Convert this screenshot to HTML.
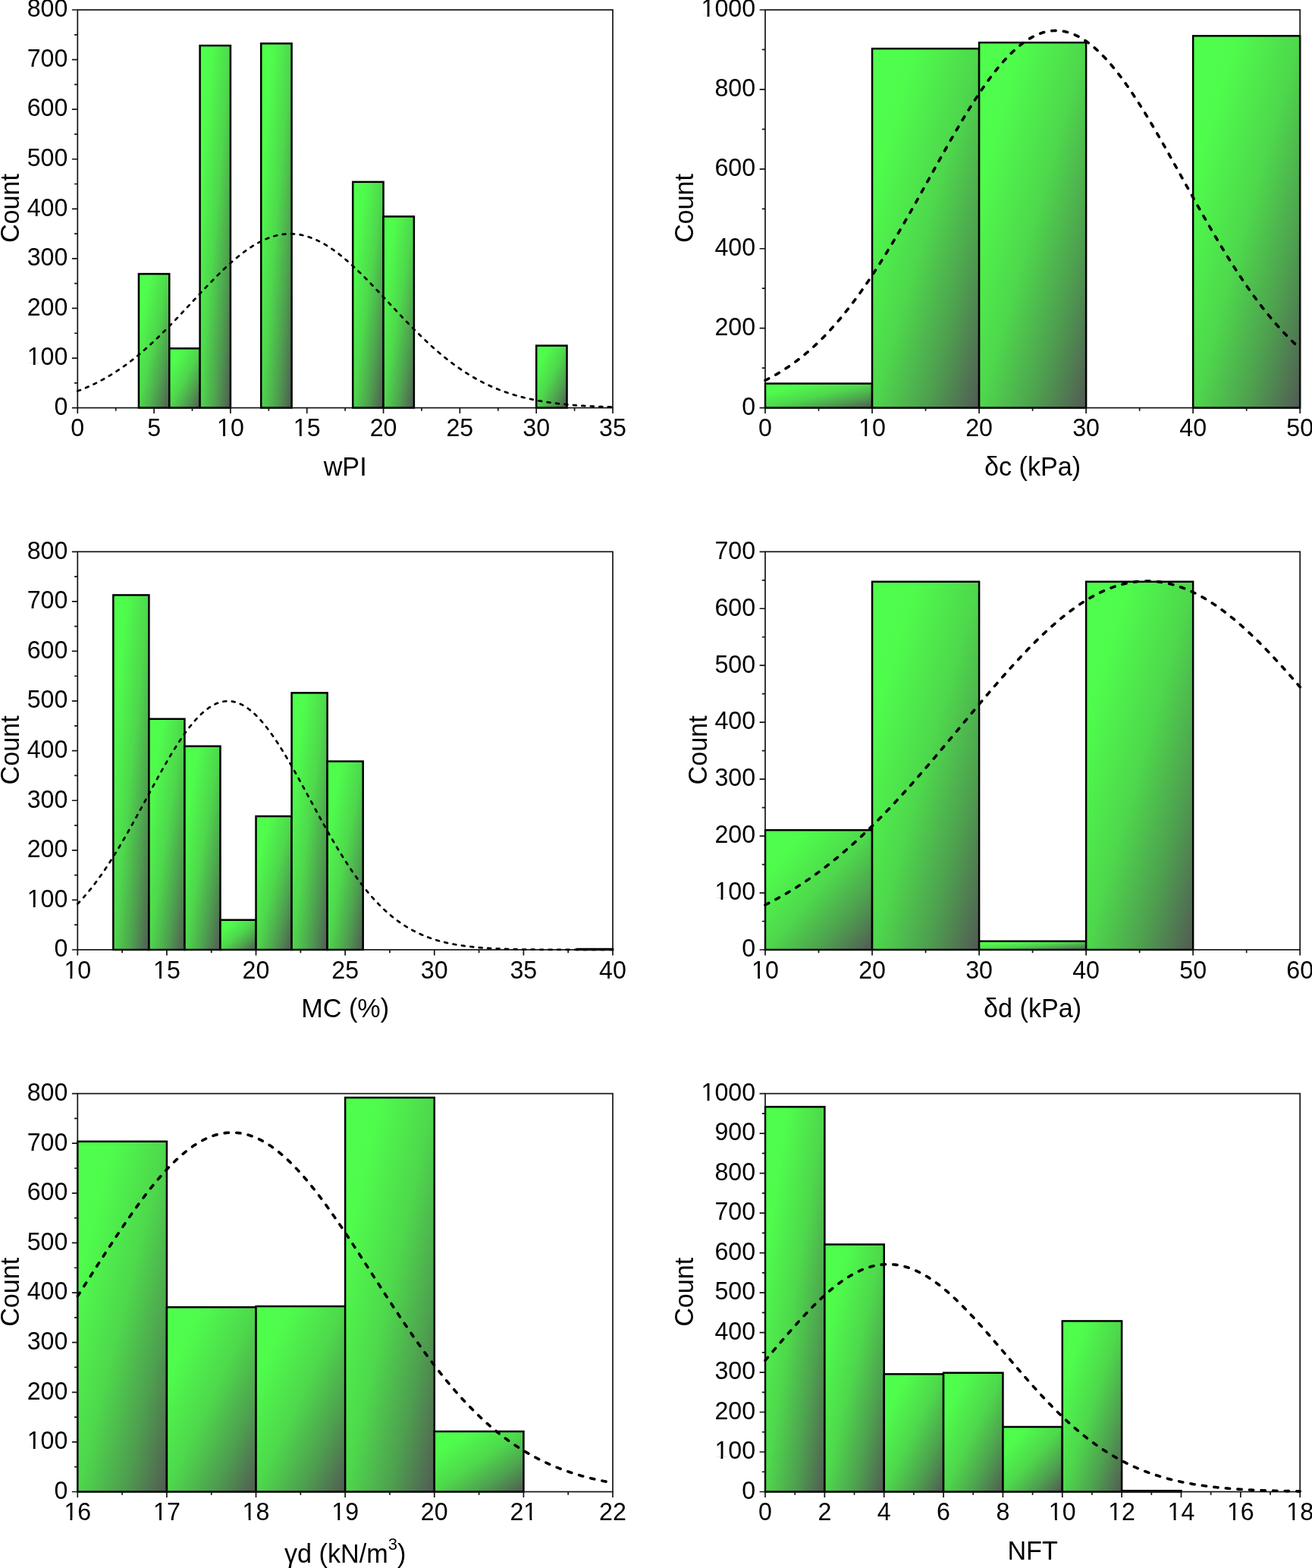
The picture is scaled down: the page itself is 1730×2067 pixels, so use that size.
<!DOCTYPE html>
<html><head><meta charset="utf-8"><title>Histograms</title>
<style>html,body{margin:0;padding:0;background:#fff;}body{width:1730px;height:2067px;overflow:hidden;}svg{display:block;}</style>
</head><body>
<svg width="1730" height="2067" viewBox="0 0 1730 2067" font-family="Liberation Sans, Arial, sans-serif" fill="#000"><defs>
<linearGradient id="gf" gradientUnits="objectBoundingBox" x1="0" y1="0" x2="1" y2="1">
<stop offset="0" stop-color="#4fff4c"/>
<stop offset="0.2" stop-color="#4ffc4c"/>
<stop offset="0.5" stop-color="#4ed84c"/>
<stop offset="0.75" stop-color="#4ea04f"/>
<stop offset="1" stop-color="#525a54"/>
</linearGradient>
</defs>
<g><rect x="182.95" y="361.07" width="40.33" height="176.53" fill="url(#gf)" stroke="#000" stroke-width="2.5"/><rect x="223.28" y="459.3" width="40.33" height="78.3" fill="url(#gf)" stroke="#000" stroke-width="2.5"/><rect x="263.6" y="60.08" width="40.33" height="477.52" fill="url(#gf)" stroke="#000" stroke-width="2.5"/><rect x="344.25" y="57.33" width="40.33" height="480.27" fill="url(#gf)" stroke="#000" stroke-width="2.5"/><rect x="465.23" y="239.82" width="40.33" height="297.78" fill="url(#gf)" stroke="#000" stroke-width="2.5"/><rect x="505.56" y="285.4" width="40.33" height="252.2" fill="url(#gf)" stroke="#000" stroke-width="2.5"/><rect x="707.19" y="455.63" width="40.33" height="81.97" fill="url(#gf)" stroke="#000" stroke-width="2.5"/><rect x="102.3" y="13" width="705.7" height="524.6" fill="none" stroke="#141414" stroke-width="1.7"/><path d="M94.9 537.6H102.3 M98.1 504.81H102.3 M94.9 472.03H102.3 M98.1 439.24H102.3 M94.9 406.45H102.3 M98.1 373.66H102.3 M94.9 340.88H102.3 M98.1 308.09H102.3 M94.9 275.3H102.3 M98.1 242.51H102.3 M94.9 209.73H102.3 M98.1 176.94H102.3 M94.9 144.15H102.3 M98.1 111.36H102.3 M94.9 78.57H102.3 M98.1 45.79H102.3 M94.9 13H102.3 M102.3 537.6V545 M152.71 537.6V541.8 M203.11 537.6V545 M253.52 537.6V541.8 M303.93 537.6V545 M354.34 537.6V541.8 M404.74 537.6V545 M455.15 537.6V541.8 M505.56 537.6V545 M555.96 537.6V541.8 M606.37 537.6V545 M656.78 537.6V541.8 M707.19 537.6V545 M757.59 537.6V541.8 M808 537.6V545" stroke="#141414" stroke-width="1.7" fill="none"/><polyline points="102.3,515.52 104.06,514.86 105.83,514.18 107.59,513.49 109.36,512.79 111.12,512.07 112.89,511.33 114.65,510.58 116.41,509.81 118.18,509.02 119.94,508.22 121.71,507.4 123.47,506.57 125.24,505.71 127,504.84 128.76,503.95 130.53,503.04 132.29,502.12 134.06,501.18 135.82,500.22 137.59,499.24 139.35,498.24 141.11,497.23 142.88,496.19 144.64,495.14 146.41,494.07 148.17,492.98 149.93,491.87 151.7,490.74 153.46,489.59 155.23,488.43 156.99,487.24 158.76,486.04 160.52,484.82 162.28,483.58 164.05,482.31 165.81,481.04 167.58,479.74 169.34,478.42 171.11,477.08 172.87,475.73 174.63,474.36 176.4,472.96 178.16,471.55 179.93,470.13 181.69,468.68 183.46,467.22 185.22,465.73 186.98,464.23 188.75,462.72 190.51,461.18 192.28,459.63 194.04,458.06 195.81,456.48 197.57,454.88 199.33,453.26 201.1,451.63 202.86,449.98 204.63,448.32 206.39,446.64 208.16,444.95 209.92,443.24 211.68,441.52 213.45,439.79 215.21,438.05 216.98,436.29 218.74,434.52 220.5,432.74 222.27,430.95 224.03,429.14 225.8,427.33 227.56,425.51 229.33,423.68 231.09,421.84 232.85,419.99 234.62,418.14 236.38,416.28 238.15,414.41 239.91,412.54 241.68,410.66 243.44,408.78 245.2,406.89 246.97,405 248.73,403.11 250.5,401.22 252.26,399.32 254.03,397.43 255.79,395.54 257.55,393.64 259.32,391.75 261.08,389.87 262.85,387.98 264.61,386.1 266.38,384.22 268.14,382.35 269.9,380.49 271.67,378.63 273.43,376.78 275.2,374.94 276.96,373.11 278.73,371.29 280.49,369.48 282.25,367.68 284.02,365.9 285.78,364.12 287.55,362.37 289.31,360.62 291.07,358.9 292.84,357.19 294.6,355.49 296.37,353.82 298.13,352.16 299.9,350.53 301.66,348.91 303.42,347.32 305.19,345.75 306.95,344.2 308.72,342.67 310.48,341.17 312.25,339.7 314.01,338.25 315.77,336.82 317.54,335.43 319.3,334.06 321.07,332.72 322.83,331.41 324.6,330.13 326.36,328.88 328.12,327.66 329.89,326.48 331.65,325.33 333.42,324.21 335.18,323.12 336.95,322.07 338.71,321.05 340.47,320.07 342.24,319.13 344,318.22 345.77,317.35 347.53,316.52 349.3,315.72 351.06,314.97 352.82,314.25 354.59,313.57 356.35,312.93 358.12,312.33 359.88,311.77 361.64,311.25 363.41,310.78 365.17,310.34 366.94,309.95 368.7,309.59 370.47,309.28 372.23,309.01 373.99,308.79 375.76,308.6 377.52,308.46 379.29,308.36 381.05,308.3 382.82,308.28 384.58,308.31 386.34,308.38 388.11,308.49 389.87,308.65 391.64,308.85 393.4,309.09 395.17,309.37 396.93,309.69 398.69,310.05 400.46,310.46 402.22,310.91 403.99,311.4 405.75,311.93 407.52,312.5 409.28,313.11 411.04,313.76 412.81,314.45 414.57,315.18 416.34,315.95 418.1,316.75 419.87,317.6 421.63,318.48 423.39,319.4 425.16,320.35 426.92,321.34 428.69,322.37 430.45,323.43 432.21,324.52 433.98,325.65 435.74,326.81 437.51,328.01 439.27,329.24 441.04,330.49 442.8,331.78 444.56,333.1 446.33,334.45 448.09,335.82 449.86,337.23 451.62,338.66 453.39,340.11 455.15,341.6 456.91,343.11 458.68,344.64 460.44,346.19 462.21,347.77 463.97,349.37 465.74,350.99 467.5,352.63 469.26,354.3 471.03,355.98 472.79,357.67 474.56,359.39 476.32,361.12 478.09,362.87 479.85,364.63 481.61,366.41 483.38,368.19 485.14,370 486.91,371.81 488.67,373.63 490.44,375.47 492.2,377.31 493.96,379.16 495.73,381.02 497.49,382.89 499.26,384.76 501.02,386.64 502.78,388.52 504.55,390.4 506.31,392.29 508.08,394.18 509.84,396.08 511.61,397.97 513.37,399.87 515.13,401.76 516.9,403.65 518.66,405.54 520.43,407.43 522.19,409.32 523.96,411.2 525.72,413.07 527.48,414.94 529.25,416.81 531.01,418.67 532.78,420.52 534.54,422.37 536.31,424.2 538.07,426.03 539.83,427.85 541.6,429.66 543.36,431.46 545.13,433.25 546.89,435.03 548.66,436.79 550.42,438.55 552.18,440.29 553.95,442.02 555.71,443.73 557.48,445.43 559.24,447.12 561,448.8 562.77,450.45 564.53,452.1 566.3,453.72 568.06,455.34 569.83,456.93 571.59,458.51 573.35,460.08 575.12,461.62 576.88,463.15 578.65,464.66 580.41,466.16 582.18,467.64 583.94,469.1 585.7,470.54 587.47,471.96 589.23,473.36 591,474.75 592.76,476.12 594.53,477.47 596.29,478.8 598.05,480.11 599.82,481.4 601.58,482.68 603.35,483.93 605.11,485.17 606.88,486.39 608.64,487.58 610.4,488.76 612.17,489.92 613.93,491.06 615.7,492.19 617.46,493.29 619.23,494.38 620.99,495.44 622.75,496.49 624.52,497.52 626.28,498.53 628.05,499.52 629.81,500.49 631.58,501.45 633.34,502.39 635.1,503.31 636.87,504.21 638.63,505.09 640.4,505.96 642.16,506.81 643.92,507.64 645.69,508.45 647.45,509.25 649.22,510.03 650.98,510.8 652.75,511.54 654.51,512.28 656.27,512.99 658.04,513.69 659.8,514.38 661.57,515.05 663.33,515.7 665.1,516.34 666.86,516.96 668.62,517.57 670.39,518.17 672.15,518.75 673.92,519.32 675.68,519.87 677.45,520.41 679.21,520.93 680.97,521.45 682.74,521.95 684.5,522.44 686.27,522.91 688.03,523.37 689.8,523.82 691.56,524.26 693.32,524.69 695.09,525.11 696.85,525.51 698.62,525.91 700.38,526.29 702.14,526.66 703.91,527.02 705.67,527.38 707.44,527.72 709.2,528.05 710.97,528.37 712.73,528.69 714.49,528.99 716.26,529.29 718.02,529.58 719.79,529.86 721.55,530.13 723.32,530.39 725.08,530.64 726.84,530.89 728.61,531.13 730.37,531.36 732.14,531.58 733.9,531.8 735.67,532.01 737.43,532.22 739.19,532.41 740.96,532.61 742.72,532.79 744.49,532.97 746.25,533.14 748.02,533.31 749.78,533.47 751.54,533.63 753.31,533.78 755.07,533.93 756.84,534.07 758.6,534.21 760.37,534.34 762.13,534.46 763.89,534.59 765.66,534.71 767.42,534.82 769.19,534.93 770.95,535.04 772.71,535.14 774.48,535.24 776.24,535.33 778.01,535.43 779.77,535.52 781.54,535.6 783.3,535.68 785.06,535.76 786.83,535.84 788.59,535.91 790.36,535.98 792.12,536.05 793.89,536.12 795.65,536.18 797.41,536.24 799.18,536.3 800.94,536.35 802.71,536.41 804.47,536.46 806.24,536.51 808,536.56" fill="none" stroke="#000" stroke-width="2.7" stroke-dasharray="3.9 7.6" stroke-linecap="round" stroke-linejoin="round"/><g font-size="32.2"><text transform="translate(89.4 546.9) scale(1 1.041)" text-anchor="end">0</text><text transform="translate(89.4 481.33) scale(1 1.041)" text-anchor="end">100</text><text transform="translate(89.4 415.75) scale(1 1.041)" text-anchor="end">200</text><text transform="translate(89.4 350.18) scale(1 1.041)" text-anchor="end">300</text><text transform="translate(89.4 284.6) scale(1 1.041)" text-anchor="end">400</text><text transform="translate(89.4 219.03) scale(1 1.041)" text-anchor="end">500</text><text transform="translate(89.4 153.45) scale(1 1.041)" text-anchor="end">600</text><text transform="translate(89.4 87.87) scale(1 1.041)" text-anchor="end">700</text><text transform="translate(89.4 22.3) scale(1 1.041)" text-anchor="end">800</text><text transform="translate(102.3 575.2) scale(1 1.041)" text-anchor="middle">0</text><text transform="translate(203.11 575.2) scale(1 1.041)" text-anchor="middle">5</text><text transform="translate(303.93 575.2) scale(1 1.041)" text-anchor="middle">10</text><text transform="translate(404.74 575.2) scale(1 1.041)" text-anchor="middle">15</text><text transform="translate(505.56 575.2) scale(1 1.041)" text-anchor="middle">20</text><text transform="translate(606.37 575.2) scale(1 1.041)" text-anchor="middle">25</text><text transform="translate(707.19 575.2) scale(1 1.041)" text-anchor="middle">30</text><text transform="translate(808 575.2) scale(1 1.041)" text-anchor="middle">35</text></g><g fill="#fff"><rect x="37.13" y="478.22" width="6.64" height="3.8"/><rect x="46.62" y="478.22" width="6.39" height="3.8"/><rect x="287.47" y="572.1" width="6.64" height="3.8"/><rect x="296.96" y="572.1" width="6.39" height="3.8"/><rect x="388.29" y="572.1" width="6.64" height="3.8"/><rect x="397.78" y="572.1" width="6.39" height="3.8"/></g><text transform="translate(455.15 627) scale(1 1.041)" text-anchor="middle" font-size="34.2">wPI</text><text transform="translate(25 274.5) rotate(-90) scale(1 1.041)" text-anchor="middle" font-size="34.2">Count</text></g>
<g><rect x="1009" y="505.6" width="141.04" height="32" fill="url(#gf)" stroke="#000" stroke-width="2.5"/><rect x="1150.04" y="64.1" width="141.04" height="473.5" fill="url(#gf)" stroke="#000" stroke-width="2.5"/><rect x="1291.08" y="56.12" width="141.04" height="481.48" fill="url(#gf)" stroke="#000" stroke-width="2.5"/><rect x="1573.16" y="47.31" width="141.04" height="490.29" fill="url(#gf)" stroke="#000" stroke-width="2.5"/><rect x="1009" y="13" width="705.2" height="524.6" fill="none" stroke="#141414" stroke-width="1.7"/><path d="M1001.6 537.6H1009 M1004.8 485.14H1009 M1001.6 432.68H1009 M1004.8 380.22H1009 M1001.6 327.76H1009 M1004.8 275.3H1009 M1001.6 222.84H1009 M1004.8 170.38H1009 M1001.6 117.92H1009 M1004.8 65.46H1009 M1001.6 13H1009 M1009 537.6V545 M1079.52 537.6V541.8 M1150.04 537.6V545 M1220.56 537.6V541.8 M1291.08 537.6V545 M1361.6 537.6V541.8 M1432.12 537.6V545 M1502.64 537.6V541.8 M1573.16 537.6V545 M1643.68 537.6V541.8 M1714.2 537.6V545" stroke="#141414" stroke-width="1.7" fill="none"/><polyline points="1009,501.39 1010.76,500.51 1012.53,499.61 1014.29,498.69 1016.05,497.76 1017.82,496.81 1019.58,495.84 1021.34,494.85 1023.1,493.84 1024.87,492.82 1026.63,491.77 1028.39,490.71 1030.16,489.63 1031.92,488.53 1033.68,487.4 1035.44,486.26 1037.21,485.1 1038.97,483.92 1040.73,482.71 1042.5,481.49 1044.26,480.25 1046.02,478.98 1047.79,477.69 1049.55,476.38 1051.31,475.05 1053.08,473.7 1054.84,472.33 1056.6,470.93 1058.36,469.51 1060.13,468.07 1061.89,466.61 1063.65,465.12 1065.42,463.61 1067.18,462.08 1068.94,460.52 1070.7,458.94 1072.47,457.34 1074.23,455.72 1075.99,454.07 1077.76,452.39 1079.52,450.7 1081.28,448.97 1083.05,447.23 1084.81,445.46 1086.57,443.67 1088.34,441.85 1090.1,440.01 1091.86,438.14 1093.62,436.25 1095.39,434.33 1097.15,432.39 1098.91,430.43 1100.68,428.44 1102.44,426.42 1104.2,424.38 1105.96,422.32 1107.73,420.23 1109.49,418.12 1111.25,415.98 1113.02,413.82 1114.78,411.64 1116.54,409.42 1118.31,407.19 1120.07,404.93 1121.83,402.65 1123.6,400.34 1125.36,398.01 1127.12,395.65 1128.88,393.28 1130.65,390.87 1132.41,388.45 1134.17,386 1135.94,383.53 1137.7,381.03 1139.46,378.51 1141.22,375.97 1142.99,373.41 1144.75,370.83 1146.51,368.22 1148.28,365.59 1150.04,362.94 1151.8,360.27 1153.57,357.58 1155.33,354.87 1157.09,352.13 1158.86,349.38 1160.62,346.61 1162.38,343.81 1164.14,341 1165.91,338.17 1167.67,335.33 1169.43,332.46 1171.2,329.58 1172.96,326.68 1174.72,323.76 1176.49,320.83 1178.25,317.88 1180.01,314.91 1181.77,311.93 1183.54,308.94 1185.3,305.93 1187.06,302.91 1188.83,299.87 1190.59,296.83 1192.35,293.77 1194.12,290.7 1195.88,287.61 1197.64,284.52 1199.4,281.42 1201.17,278.31 1202.93,275.19 1204.69,272.06 1206.46,268.92 1208.22,265.78 1209.98,262.63 1211.74,259.48 1213.51,256.32 1215.27,253.15 1217.03,249.99 1218.8,246.82 1220.56,243.64 1222.32,240.47 1224.09,237.29 1225.85,234.12 1227.61,230.94 1229.38,227.77 1231.14,224.6 1232.9,221.43 1234.66,218.26 1236.43,215.1 1238.19,211.94 1239.95,208.79 1241.72,205.64 1243.48,202.5 1245.24,199.37 1247.01,196.25 1248.77,193.14 1250.53,190.03 1252.29,186.94 1254.06,183.86 1255.82,180.79 1257.58,177.74 1259.35,174.7 1261.11,171.68 1262.87,168.67 1264.63,165.67 1266.4,162.7 1268.16,159.74 1269.92,156.8 1271.69,153.88 1273.45,150.98 1275.21,148.11 1276.98,145.25 1278.74,142.42 1280.5,139.61 1282.27,136.83 1284.03,134.07 1285.79,131.33 1287.55,128.63 1289.32,125.95 1291.08,123.3 1292.84,120.68 1294.61,118.09 1296.37,115.53 1298.13,113 1299.89,110.5 1301.66,108.04 1303.42,105.61 1305.18,103.22 1306.95,100.86 1308.71,98.53 1310.47,96.24 1312.24,93.99 1314,91.78 1315.76,89.61 1317.53,87.47 1319.29,85.38 1321.05,83.32 1322.81,81.31 1324.58,79.34 1326.34,77.41 1328.1,75.53 1329.87,73.69 1331.63,71.89 1333.39,70.14 1335.15,68.43 1336.92,66.77 1338.68,65.16 1340.44,63.59 1342.21,62.07 1343.97,60.6 1345.73,59.18 1347.5,57.8 1349.26,56.48 1351.02,55.2 1352.79,53.98 1354.55,52.81 1356.31,51.68 1358.07,50.61 1359.84,49.59 1361.6,48.62 1363.36,47.71 1365.13,46.85 1366.89,46.04 1368.65,45.28 1370.41,44.58 1372.18,43.93 1373.94,43.33 1375.7,42.79 1377.47,42.31 1379.23,41.88 1380.99,41.5 1382.76,41.18 1384.52,40.91 1386.28,40.7 1388.05,40.54 1389.81,40.44 1391.57,40.39 1393.33,40.4 1395.1,40.46 1396.86,40.58 1398.62,40.75 1400.39,40.98 1402.15,41.26 1403.91,41.6 1405.67,41.99 1407.44,42.44 1409.2,42.94 1410.96,43.5 1412.73,44.11 1414.49,44.77 1416.25,45.49 1418.02,46.26 1419.78,47.08 1421.54,47.96 1423.31,48.89 1425.07,49.87 1426.83,50.91 1428.59,51.99 1430.36,53.13 1432.12,54.32 1433.88,55.56 1435.65,56.84 1437.41,58.18 1439.17,59.57 1440.93,61.01 1442.7,62.49 1444.46,64.02 1446.22,65.6 1447.99,67.23 1449.75,68.91 1451.51,70.62 1453.28,72.39 1455.04,74.2 1456.8,76.05 1458.57,77.95 1460.33,79.89 1462.09,81.87 1463.85,83.9 1465.62,85.96 1467.38,88.07 1469.14,90.21 1470.91,92.4 1472.67,94.62 1474.43,96.88 1476.19,99.18 1477.96,101.51 1479.72,103.88 1481.48,106.29 1483.25,108.73 1485.01,111.2 1486.77,113.71 1488.54,116.24 1490.3,118.81 1492.06,121.41 1493.83,124.04 1495.59,126.7 1497.35,129.38 1499.11,132.1 1500.88,134.84 1502.64,137.6 1504.4,140.39 1506.17,143.21 1507.93,146.05 1509.69,148.91 1511.45,151.79 1513.22,154.7 1514.98,157.62 1516.74,160.57 1518.51,163.53 1520.27,166.51 1522.03,169.51 1523.8,172.52 1525.56,175.55 1527.32,178.59 1529.09,181.65 1530.85,184.72 1532.61,187.81 1534.37,190.9 1536.14,194.01 1537.9,197.12 1539.66,200.25 1541.43,203.38 1543.19,206.52 1544.95,209.67 1546.72,212.82 1548.48,215.98 1550.24,219.15 1552,222.31 1553.77,225.48 1555.53,228.66 1557.29,231.83 1559.06,235.01 1560.82,238.18 1562.58,241.36 1564.35,244.53 1566.11,247.7 1567.87,250.87 1569.63,254.04 1571.4,257.2 1573.16,260.36 1574.92,263.51 1576.69,266.66 1578.45,269.8 1580.21,272.94 1581.97,276.06 1583.74,279.18 1585.5,282.29 1587.26,285.39 1589.03,288.48 1590.79,291.56 1592.55,294.62 1594.32,297.68 1596.08,300.72 1597.84,303.76 1599.61,306.77 1601.37,309.78 1603.13,312.77 1604.89,315.74 1606.66,318.7 1608.42,321.65 1610.18,324.58 1611.95,327.49 1613.71,330.39 1615.47,333.26 1617.24,336.13 1619,338.97 1620.76,341.79 1622.52,344.6 1624.29,347.39 1626.05,350.15 1627.81,352.9 1629.58,355.63 1631.34,358.33 1633.1,361.02 1634.87,363.68 1636.63,366.33 1638.39,368.95 1640.15,371.55 1641.92,374.13 1643.68,376.69 1645.44,379.22 1647.21,381.73 1648.97,384.22 1650.73,386.69 1652.49,389.13 1654.26,391.55 1656.02,393.94 1657.78,396.32 1659.55,398.66 1661.31,400.99 1663.07,403.29 1664.84,405.57 1666.6,407.82 1668.36,410.05 1670.12,412.25 1671.89,414.43 1673.65,416.58 1675.41,418.71 1677.18,420.82 1678.94,422.9 1680.7,424.96 1682.47,426.99 1684.23,429 1685.99,430.98 1687.76,432.94 1689.52,434.87 1691.28,436.78 1693.04,438.66 1694.81,440.52 1696.57,442.36 1698.33,444.17 1700.1,445.96 1701.86,447.72 1703.62,449.46 1705.39,451.17 1707.15,452.86 1708.91,454.53 1710.67,456.17 1712.44,457.79 1714.2,459.39" fill="none" stroke="#000" stroke-width="3.6" stroke-dasharray="5.3 10.3" stroke-linecap="round" stroke-linejoin="round"/><g font-size="32.2"><text transform="translate(996.1 546.9) scale(1 1.041)" text-anchor="end">0</text><text transform="translate(996.1 441.98) scale(1 1.041)" text-anchor="end">200</text><text transform="translate(996.1 337.06) scale(1 1.041)" text-anchor="end">400</text><text transform="translate(996.1 232.14) scale(1 1.041)" text-anchor="end">600</text><text transform="translate(996.1 127.22) scale(1 1.041)" text-anchor="end">800</text><text transform="translate(996.1 22.3) scale(1 1.041)" text-anchor="end">1000</text><text transform="translate(1009 575.2) scale(1 1.041)" text-anchor="middle">0</text><text transform="translate(1150.04 575.2) scale(1 1.041)" text-anchor="middle">10</text><text transform="translate(1291.08 575.2) scale(1 1.041)" text-anchor="middle">20</text><text transform="translate(1432.12 575.2) scale(1 1.041)" text-anchor="middle">30</text><text transform="translate(1573.16 575.2) scale(1 1.041)" text-anchor="middle">40</text><text transform="translate(1714.2 575.2) scale(1 1.041)" text-anchor="middle">50</text></g><g fill="#fff"><rect x="925.92" y="19.2" width="6.64" height="3.8"/><rect x="935.41" y="19.2" width="6.39" height="3.8"/><rect x="1133.58" y="572.1" width="6.64" height="3.8"/><rect x="1143.07" y="572.1" width="6.39" height="3.8"/></g><text transform="translate(1361.6 627) scale(1 1.041)" text-anchor="middle" font-size="34.2">δc (kPa)</text><text transform="translate(914.3 274.5) rotate(-90) scale(1 1.041)" text-anchor="middle" font-size="34.2">Count</text></g>
<g><rect x="149.35" y="784.43" width="47.05" height="467.57" fill="url(#gf)" stroke="#000" stroke-width="2.5"/><rect x="196.39" y="947.74" width="47.05" height="304.26" fill="url(#gf)" stroke="#000" stroke-width="2.5"/><rect x="243.44" y="983.68" width="47.05" height="268.32" fill="url(#gf)" stroke="#000" stroke-width="2.5"/><rect x="290.49" y="1212.71" width="47.05" height="39.29" fill="url(#gf)" stroke="#000" stroke-width="2.5"/><rect x="337.53" y="1076.03" width="47.05" height="175.97" fill="url(#gf)" stroke="#000" stroke-width="2.5"/><rect x="384.58" y="913.37" width="47.05" height="338.63" fill="url(#gf)" stroke="#000" stroke-width="2.5"/><rect x="431.63" y="1003.62" width="47.05" height="248.38" fill="url(#gf)" stroke="#000" stroke-width="2.5"/><rect x="760.95" y="1251.02" width="47.05" height="0.98" fill="url(#gf)" stroke="#000" stroke-width="2.5"/><rect x="102.3" y="727.3" width="705.7" height="524.7" fill="none" stroke="#141414" stroke-width="1.7"/><path d="M94.9 1252H102.3 M98.1 1219.21H102.3 M94.9 1186.41H102.3 M98.1 1153.62H102.3 M94.9 1120.83H102.3 M98.1 1088.03H102.3 M94.9 1055.24H102.3 M98.1 1022.44H102.3 M94.9 989.65H102.3 M98.1 956.86H102.3 M94.9 924.06H102.3 M98.1 891.27H102.3 M94.9 858.47H102.3 M98.1 825.68H102.3 M94.9 792.89H102.3 M98.1 760.09H102.3 M94.9 727.3H102.3 M102.3 1252V1259.4 M161.11 1252V1256.2 M219.92 1252V1259.4 M278.73 1252V1256.2 M337.53 1252V1259.4 M396.34 1252V1256.2 M455.15 1252V1259.4 M513.96 1252V1256.2 M572.77 1252V1259.4 M631.58 1252V1256.2 M690.38 1252V1259.4 M749.19 1252V1256.2 M808 1252V1259.4" stroke="#141414" stroke-width="1.7" fill="none"/><polyline points="102.3,1191.54 104.06,1189.7 105.83,1187.83 107.59,1185.91 109.36,1183.96 111.12,1181.96 112.89,1179.93 114.65,1177.86 116.41,1175.75 118.18,1173.6 119.94,1171.41 121.71,1169.18 123.47,1166.92 125.24,1164.61 127,1162.27 128.76,1159.89 130.53,1157.47 132.29,1155.01 134.06,1152.52 135.82,1149.98 137.59,1147.42 139.35,1144.81 141.11,1142.17 142.88,1139.5 144.64,1136.79 146.41,1134.05 148.17,1131.28 149.93,1128.47 151.7,1125.63 153.46,1122.76 155.23,1119.86 156.99,1116.94 158.76,1113.98 160.52,1111 162.28,1107.99 164.05,1104.96 165.81,1101.9 167.58,1098.82 169.34,1095.72 171.11,1092.6 172.87,1089.46 174.63,1086.3 176.4,1083.13 178.16,1079.94 179.93,1076.74 181.69,1073.52 183.46,1070.3 185.22,1067.07 186.98,1063.83 188.75,1060.58 190.51,1057.33 192.28,1054.08 194.04,1050.83 195.81,1047.58 197.57,1044.33 199.33,1041.09 201.1,1037.86 202.86,1034.63 204.63,1031.41 206.39,1028.21 208.16,1025.02 209.92,1021.84 211.68,1018.69 213.45,1015.55 215.21,1012.44 216.98,1009.35 218.74,1006.28 220.5,1003.25 222.27,1000.24 224.03,997.26 225.8,994.32 227.56,991.42 229.33,988.55 231.09,985.72 232.85,982.94 234.62,980.19 236.38,977.5 238.15,974.85 239.91,972.25 241.68,969.7 243.44,967.2 245.2,964.76 246.97,962.38 248.73,960.05 250.5,957.78 252.26,955.58 254.03,953.44 255.79,951.36 257.55,949.35 259.32,947.41 261.08,945.54 262.85,943.74 264.61,942.01 266.38,940.35 268.14,938.77 269.9,937.27 271.67,935.84 273.43,934.49 275.2,933.23 276.96,932.04 278.73,930.93 280.49,929.91 282.25,928.97 284.02,928.11 285.78,927.34 287.55,926.65 289.31,926.05 291.07,925.54 292.84,925.11 294.6,924.77 296.37,924.51 298.13,924.35 299.9,924.27 301.66,924.28 303.42,924.37 305.19,924.56 306.95,924.83 308.72,925.19 310.48,925.63 312.25,926.16 314.01,926.78 315.77,927.49 317.54,928.28 319.3,929.15 321.07,930.11 322.83,931.15 324.6,932.27 326.36,933.47 328.12,934.76 329.89,936.12 331.65,937.56 333.42,939.08 335.18,940.68 336.95,942.35 338.71,944.09 340.47,945.91 342.24,947.79 344,949.75 345.77,951.77 347.53,953.86 349.3,956.01 351.06,958.23 352.82,960.51 354.59,962.85 356.35,965.24 358.12,967.7 359.88,970.2 361.64,972.76 363.41,975.37 365.17,978.03 366.94,980.74 368.7,983.49 370.47,986.29 372.23,989.12 373.99,992 375.76,994.91 377.52,997.86 379.29,1000.84 381.05,1003.85 382.82,1006.89 384.58,1009.96 386.34,1013.06 388.11,1016.18 389.87,1019.32 391.64,1022.48 393.4,1025.65 395.17,1028.85 396.93,1032.05 398.69,1035.27 400.46,1038.5 402.22,1041.74 403.99,1044.98 405.75,1048.23 407.52,1051.48 409.28,1054.73 411.04,1057.98 412.81,1061.23 414.57,1064.48 416.34,1067.71 418.1,1070.94 419.87,1074.17 421.63,1077.38 423.39,1080.58 425.16,1083.76 426.92,1086.93 428.69,1090.09 430.45,1093.22 432.21,1096.34 433.98,1099.44 435.74,1102.51 437.51,1105.56 439.27,1108.59 441.04,1111.6 442.8,1114.57 444.56,1117.52 446.33,1120.44 448.09,1123.34 449.86,1126.2 451.62,1129.03 453.39,1131.83 455.15,1134.6 456.91,1137.34 458.68,1140.04 460.44,1142.7 462.21,1145.34 463.97,1147.93 465.74,1150.49 467.5,1153.02 469.26,1155.5 471.03,1157.95 472.79,1160.37 474.56,1162.74 476.32,1165.08 478.09,1167.37 479.85,1169.63 481.61,1171.85 483.38,1174.03 485.14,1176.17 486.91,1178.28 488.67,1180.34 490.44,1182.36 492.2,1184.35 493.96,1186.3 495.73,1188.2 497.49,1190.07 499.26,1191.9 501.02,1193.69 502.78,1195.45 504.55,1197.16 506.31,1198.84 508.08,1200.48 509.84,1202.08 511.61,1203.65 513.37,1205.18 515.13,1206.67 516.9,1208.13 518.66,1209.55 520.43,1210.93 522.19,1212.29 523.96,1213.6 525.72,1214.89 527.48,1216.14 529.25,1217.36 531.01,1218.54 532.78,1219.69 534.54,1220.82 536.31,1221.91 538.07,1222.97 539.83,1224 541.6,1225 543.36,1225.97 545.13,1226.92 546.89,1227.83 548.66,1228.72 550.42,1229.59 552.18,1230.42 553.95,1231.23 555.71,1232.02 557.48,1232.78 559.24,1233.52 561,1234.23 562.77,1234.92 564.53,1235.59 566.3,1236.23 568.06,1236.86 569.83,1237.46 571.59,1238.05 573.35,1238.61 575.12,1239.15 576.88,1239.68 578.65,1240.19 580.41,1240.68 582.18,1241.15 583.94,1241.6 585.7,1242.04 587.47,1242.46 589.23,1242.87 591,1243.26 592.76,1243.64 594.53,1244 596.29,1244.35 598.05,1244.69 599.82,1245.01 601.58,1245.32 603.35,1245.62 605.11,1245.91 606.88,1246.19 608.64,1246.45 610.4,1246.7 612.17,1246.95 613.93,1247.18 615.7,1247.41 617.46,1247.62 619.23,1247.83 620.99,1248.02 622.75,1248.21 624.52,1248.39 626.28,1248.57 628.05,1248.73 629.81,1248.89 631.58,1249.04 633.34,1249.19 635.1,1249.33 636.87,1249.46 638.63,1249.59 640.4,1249.71 642.16,1249.82 643.92,1249.93 645.69,1250.04 647.45,1250.14 649.22,1250.23 650.98,1250.33 652.75,1250.41 654.51,1250.5 656.27,1250.57 658.04,1250.65 659.8,1250.72 661.57,1250.79 663.33,1250.85 665.1,1250.91 666.86,1250.97 668.62,1251.03 670.39,1251.08 672.15,1251.13 673.92,1251.18 675.68,1251.22 677.45,1251.27 679.21,1251.31 680.97,1251.35 682.74,1251.38 684.5,1251.42 686.27,1251.45 688.03,1251.48 689.8,1251.51 691.56,1251.54 693.32,1251.57 695.09,1251.59 696.85,1251.62 698.62,1251.64 700.38,1251.66 702.14,1251.68 703.91,1251.7 705.67,1251.72 707.44,1251.73 709.2,1251.75 710.97,1251.76 712.73,1251.78 714.49,1251.79 716.26,1251.8 718.02,1251.82 719.79,1251.83 721.55,1251.84 723.32,1251.85 725.08,1251.86 726.84,1251.87 728.61,1251.88 730.37,1251.88 732.14,1251.89 733.9,1251.9 735.67,1251.9 737.43,1251.91 739.19,1251.92 740.96,1251.92 742.72,1251.93 744.49,1251.93 746.25,1251.94 748.02,1251.94 749.78,1251.94 751.54,1251.95 753.31,1251.95 755.07,1251.95 756.84,1251.96 758.6,1251.96 760.37,1251.96 762.13,1251.97 763.89,1251.97 765.66,1251.97 767.42,1251.97 769.19,1251.97 770.95,1251.98 772.71,1251.98 774.48,1251.98 776.24,1251.98 778.01,1251.98 779.77,1251.98 781.54,1251.98 783.3,1251.99 785.06,1251.99 786.83,1251.99 788.59,1251.99 790.36,1251.99 792.12,1251.99 793.89,1251.99 795.65,1251.99 797.41,1251.99 799.18,1251.99 800.94,1251.99 802.71,1251.99 804.47,1251.99 806.24,1251.99 808,1251.99" fill="none" stroke="#000" stroke-width="2.7" stroke-dasharray="3.9 7.6" stroke-linecap="round" stroke-linejoin="round"/><g font-size="32.2"><text transform="translate(89.4 1261.3) scale(1 1.041)" text-anchor="end">0</text><text transform="translate(89.4 1195.71) scale(1 1.041)" text-anchor="end">100</text><text transform="translate(89.4 1130.12) scale(1 1.041)" text-anchor="end">200</text><text transform="translate(89.4 1064.54) scale(1 1.041)" text-anchor="end">300</text><text transform="translate(89.4 998.95) scale(1 1.041)" text-anchor="end">400</text><text transform="translate(89.4 933.36) scale(1 1.041)" text-anchor="end">500</text><text transform="translate(89.4 867.77) scale(1 1.041)" text-anchor="end">600</text><text transform="translate(89.4 802.19) scale(1 1.041)" text-anchor="end">700</text><text transform="translate(89.4 736.6) scale(1 1.041)" text-anchor="end">800</text><text transform="translate(102.3 1289.6) scale(1 1.041)" text-anchor="middle">10</text><text transform="translate(219.92 1289.6) scale(1 1.041)" text-anchor="middle">15</text><text transform="translate(337.53 1289.6) scale(1 1.041)" text-anchor="middle">20</text><text transform="translate(455.15 1289.6) scale(1 1.041)" text-anchor="middle">25</text><text transform="translate(572.77 1289.6) scale(1 1.041)" text-anchor="middle">30</text><text transform="translate(690.38 1289.6) scale(1 1.041)" text-anchor="middle">35</text><text transform="translate(808 1289.6) scale(1 1.041)" text-anchor="middle">40</text></g><g fill="#fff"><rect x="37.13" y="1192.61" width="6.64" height="3.8"/><rect x="46.62" y="1192.61" width="6.39" height="3.8"/><rect x="85.84" y="1286.5" width="6.64" height="3.8"/><rect x="95.33" y="1286.5" width="6.39" height="3.8"/><rect x="203.46" y="1286.5" width="6.64" height="3.8"/><rect x="212.95" y="1286.5" width="6.39" height="3.8"/></g><text transform="translate(455.15 1341.4) scale(1 1.041)" text-anchor="middle" font-size="34.2">MC (%)</text><text transform="translate(25 988.85) rotate(-90) scale(1 1.041)" text-anchor="middle" font-size="34.2">Count</text></g>
<g><rect x="1009" y="1094.29" width="141.04" height="157.71" fill="url(#gf)" stroke="#000" stroke-width="2.5"/><rect x="1150.04" y="766.8" width="141.04" height="485.2" fill="url(#gf)" stroke="#000" stroke-width="2.5"/><rect x="1291.08" y="1240.76" width="141.04" height="11.24" fill="url(#gf)" stroke="#000" stroke-width="2.5"/><rect x="1432.12" y="766.8" width="141.04" height="485.2" fill="url(#gf)" stroke="#000" stroke-width="2.5"/><rect x="1009" y="727.3" width="705.2" height="524.7" fill="none" stroke="#141414" stroke-width="1.7"/><path d="M1001.6 1252H1009 M1004.8 1214.52H1009 M1001.6 1177.04H1009 M1004.8 1139.56H1009 M1001.6 1102.09H1009 M1004.8 1064.61H1009 M1001.6 1027.13H1009 M1004.8 989.65H1009 M1001.6 952.17H1009 M1004.8 914.69H1009 M1001.6 877.21H1009 M1004.8 839.74H1009 M1001.6 802.26H1009 M1004.8 764.78H1009 M1001.6 727.3H1009 M1009 1252V1259.4 M1079.52 1252V1256.2 M1150.04 1252V1259.4 M1220.56 1252V1256.2 M1291.08 1252V1259.4 M1361.6 1252V1256.2 M1432.12 1252V1259.4 M1502.64 1252V1256.2 M1573.16 1252V1259.4 M1643.68 1252V1256.2 M1714.2 1252V1259.4" stroke="#141414" stroke-width="1.7" fill="none"/><polyline points="1009,1192.84 1010.76,1191.96 1012.53,1191.08 1014.29,1190.18 1016.05,1189.27 1017.82,1188.35 1019.58,1187.43 1021.34,1186.49 1023.1,1185.54 1024.87,1184.58 1026.63,1183.61 1028.39,1182.64 1030.16,1181.65 1031.92,1180.65 1033.68,1179.64 1035.44,1178.62 1037.21,1177.59 1038.97,1176.54 1040.73,1175.49 1042.5,1174.43 1044.26,1173.36 1046.02,1172.27 1047.79,1171.18 1049.55,1170.07 1051.31,1168.95 1053.08,1167.83 1054.84,1166.69 1056.6,1165.54 1058.36,1164.38 1060.13,1163.21 1061.89,1162.02 1063.65,1160.83 1065.42,1159.63 1067.18,1158.41 1068.94,1157.18 1070.7,1155.95 1072.47,1154.7 1074.23,1153.44 1075.99,1152.17 1077.76,1150.88 1079.52,1149.59 1081.28,1148.29 1083.05,1146.97 1084.81,1145.64 1086.57,1144.3 1088.34,1142.95 1090.1,1141.59 1091.86,1140.22 1093.62,1138.84 1095.39,1137.44 1097.15,1136.04 1098.91,1134.62 1100.68,1133.19 1102.44,1131.76 1104.2,1130.31 1105.96,1128.84 1107.73,1127.37 1109.49,1125.89 1111.25,1124.39 1113.02,1122.89 1114.78,1121.37 1116.54,1119.84 1118.31,1118.31 1120.07,1116.76 1121.83,1115.2 1123.6,1113.62 1125.36,1112.04 1127.12,1110.45 1128.88,1108.85 1130.65,1107.23 1132.41,1105.61 1134.17,1103.97 1135.94,1102.33 1137.7,1100.67 1139.46,1099 1141.22,1097.32 1142.99,1095.64 1144.75,1093.94 1146.51,1092.23 1148.28,1090.51 1150.04,1088.79 1151.8,1087.05 1153.57,1085.3 1155.33,1083.54 1157.09,1081.77 1158.86,1080 1160.62,1078.21 1162.38,1076.41 1164.14,1074.61 1165.91,1072.79 1167.67,1070.97 1169.43,1069.13 1171.2,1067.29 1172.96,1065.44 1174.72,1063.58 1176.49,1061.71 1178.25,1059.83 1180.01,1057.95 1181.77,1056.05 1183.54,1054.15 1185.3,1052.24 1187.06,1050.32 1188.83,1048.4 1190.59,1046.46 1192.35,1044.52 1194.12,1042.57 1195.88,1040.61 1197.64,1038.65 1199.4,1036.68 1201.17,1034.7 1202.93,1032.71 1204.69,1030.72 1206.46,1028.72 1208.22,1026.72 1209.98,1024.71 1211.74,1022.69 1213.51,1020.67 1215.27,1018.64 1217.03,1016.6 1218.8,1014.56 1220.56,1012.52 1222.32,1010.47 1224.09,1008.41 1225.85,1006.35 1227.61,1004.28 1229.38,1002.22 1231.14,1000.14 1232.9,998.06 1234.66,995.98 1236.43,993.9 1238.19,991.81 1239.95,989.72 1241.72,987.62 1243.48,985.52 1245.24,983.42 1247.01,981.32 1248.77,979.21 1250.53,977.1 1252.29,974.99 1254.06,972.88 1255.82,970.76 1257.58,968.65 1259.35,966.53 1261.11,964.42 1262.87,962.3 1264.63,960.18 1266.4,958.06 1268.16,955.94 1269.92,953.82 1271.69,951.7 1273.45,949.59 1275.21,947.47 1276.98,945.35 1278.74,943.24 1280.5,941.12 1282.27,939.01 1284.03,936.9 1285.79,934.8 1287.55,932.69 1289.32,930.59 1291.08,928.49 1292.84,926.39 1294.61,924.3 1296.37,922.21 1298.13,920.12 1299.89,918.04 1301.66,915.97 1303.42,913.89 1305.18,911.82 1306.95,909.76 1308.71,907.7 1310.47,905.65 1312.24,903.6 1314,901.56 1315.76,899.53 1317.53,897.5 1319.29,895.48 1321.05,893.47 1322.81,891.46 1324.58,889.46 1326.34,887.47 1328.1,885.49 1329.87,883.51 1331.63,881.55 1333.39,879.59 1335.15,877.64 1336.92,875.7 1338.68,873.77 1340.44,871.85 1342.21,869.94 1343.97,868.04 1345.73,866.15 1347.5,864.27 1349.26,862.4 1351.02,860.54 1352.79,858.7 1354.55,856.87 1356.31,855.04 1358.07,853.23 1359.84,851.44 1361.6,849.65 1363.36,847.88 1365.13,846.12 1366.89,844.38 1368.65,842.65 1370.41,840.93 1372.18,839.23 1373.94,837.54 1375.7,835.87 1377.47,834.21 1379.23,832.56 1380.99,830.93 1382.76,829.32 1384.52,827.72 1386.28,826.14 1388.05,824.57 1389.81,823.03 1391.57,821.49 1393.33,819.98 1395.1,818.48 1396.86,817 1398.62,815.53 1400.39,814.09 1402.15,812.66 1403.91,811.25 1405.67,809.86 1407.44,808.48 1409.2,807.13 1410.96,805.79 1412.73,804.48 1414.49,803.18 1416.25,801.9 1418.02,800.64 1419.78,799.41 1421.54,798.19 1423.31,796.99 1425.07,795.81 1426.83,794.66 1428.59,793.52 1430.36,792.4 1432.12,791.31 1433.88,790.24 1435.65,789.19 1437.41,788.16 1439.17,787.15 1440.93,786.16 1442.7,785.2 1444.46,784.26 1446.22,783.34 1447.99,782.44 1449.75,781.56 1451.51,780.71 1453.28,779.88 1455.04,779.08 1456.8,778.29 1458.57,777.53 1460.33,776.8 1462.09,776.08 1463.85,775.39 1465.62,774.73 1467.38,774.09 1469.14,773.47 1470.91,772.87 1472.67,772.3 1474.43,771.76 1476.19,771.24 1477.96,770.74 1479.72,770.27 1481.48,769.82 1483.25,769.39 1485.01,768.99 1486.77,768.62 1488.54,768.27 1490.3,767.94 1492.06,767.64 1493.83,767.37 1495.59,767.11 1497.35,766.89 1499.11,766.69 1500.88,766.51 1502.64,766.36 1504.4,766.23 1506.17,766.13 1507.93,766.06 1509.69,766.01 1511.45,765.98 1513.22,765.98 1514.98,766.01 1516.74,766.06 1518.51,766.13 1520.27,766.23 1522.03,766.35 1523.8,766.5 1525.56,766.68 1527.32,766.88 1529.09,767.1 1530.85,767.35 1532.61,767.63 1534.37,767.93 1536.14,768.25 1537.9,768.6 1539.66,768.98 1541.43,769.38 1543.19,769.8 1544.95,770.25 1546.72,770.72 1548.48,771.22 1550.24,771.74 1552,772.28 1553.77,772.85 1555.53,773.44 1557.29,774.06 1559.06,774.7 1560.82,775.37 1562.58,776.06 1564.35,776.77 1566.11,777.5 1567.87,778.26 1569.63,779.04 1571.4,779.85 1573.16,780.68 1574.92,781.53 1576.69,782.4 1578.45,783.3 1580.21,784.22 1581.97,785.16 1583.74,786.12 1585.5,787.11 1587.26,788.12 1589.03,789.14 1590.79,790.2 1592.55,791.27 1594.32,792.36 1596.08,793.47 1597.84,794.61 1599.61,795.77 1601.37,796.94 1603.13,798.14 1604.89,799.36 1606.66,800.59 1608.42,801.85 1610.18,803.13 1611.95,804.43 1613.71,805.74 1615.47,807.08 1617.24,808.43 1619,809.8 1620.76,811.19 1622.52,812.6 1624.29,814.03 1626.05,815.48 1627.81,816.94 1629.58,818.42 1631.34,819.92 1633.1,821.43 1634.87,822.96 1636.63,824.51 1638.39,826.08 1640.15,827.66 1641.92,829.26 1643.68,830.87 1645.44,832.5 1647.21,834.14 1648.97,835.8 1650.73,837.47 1652.49,839.16 1654.26,840.86 1656.02,842.58 1657.78,844.31 1659.55,846.05 1661.31,847.81 1663.07,849.58 1664.84,851.37 1666.6,853.16 1668.36,854.97 1670.12,856.79 1671.89,858.63 1673.65,860.47 1675.41,862.33 1677.18,864.19 1678.94,866.07 1680.7,867.96 1682.47,869.86 1684.23,871.77 1685.99,873.69 1687.76,875.62 1689.52,877.56 1691.28,879.51 1693.04,881.47 1694.81,883.43 1696.57,885.41 1698.33,887.39 1700.1,889.38 1701.86,891.38 1703.62,893.39 1705.39,895.4 1707.15,897.42 1708.91,899.45 1710.67,901.48 1712.44,903.52 1714.2,905.57" fill="none" stroke="#000" stroke-width="3.6" stroke-dasharray="5.3 10.3" stroke-linecap="round" stroke-linejoin="round"/><g font-size="32.2"><text transform="translate(996.1 1261.3) scale(1 1.041)" text-anchor="end">0</text><text transform="translate(996.1 1186.34) scale(1 1.041)" text-anchor="end">100</text><text transform="translate(996.1 1111.39) scale(1 1.041)" text-anchor="end">200</text><text transform="translate(996.1 1036.43) scale(1 1.041)" text-anchor="end">300</text><text transform="translate(996.1 961.47) scale(1 1.041)" text-anchor="end">400</text><text transform="translate(996.1 886.51) scale(1 1.041)" text-anchor="end">500</text><text transform="translate(996.1 811.56) scale(1 1.041)" text-anchor="end">600</text><text transform="translate(996.1 736.6) scale(1 1.041)" text-anchor="end">700</text><text transform="translate(1009 1289.6) scale(1 1.041)" text-anchor="middle">10</text><text transform="translate(1150.04 1289.6) scale(1 1.041)" text-anchor="middle">20</text><text transform="translate(1291.08 1289.6) scale(1 1.041)" text-anchor="middle">30</text><text transform="translate(1432.12 1289.6) scale(1 1.041)" text-anchor="middle">40</text><text transform="translate(1573.16 1289.6) scale(1 1.041)" text-anchor="middle">50</text><text transform="translate(1714.2 1289.6) scale(1 1.041)" text-anchor="middle">60</text></g><g fill="#fff"><rect x="943.83" y="1183.24" width="6.64" height="3.8"/><rect x="953.32" y="1183.24" width="6.39" height="3.8"/><rect x="992.54" y="1286.5" width="6.64" height="3.8"/><rect x="1002.03" y="1286.5" width="6.39" height="3.8"/></g><text transform="translate(1361.6 1341.4) scale(1 1.041)" text-anchor="middle" font-size="34.2">δd (kPa)</text><text transform="translate(931.7 988.85) rotate(-90) scale(1 1.041)" text-anchor="middle" font-size="34.2">Count</text></g>
<g><rect x="102.3" y="1504.72" width="117.62" height="461.78" fill="url(#gf)" stroke="#000" stroke-width="2.5"/><rect x="219.92" y="1723.21" width="117.62" height="243.29" fill="url(#gf)" stroke="#000" stroke-width="2.5"/><rect x="337.53" y="1722.03" width="117.62" height="244.47" fill="url(#gf)" stroke="#000" stroke-width="2.5"/><rect x="455.15" y="1446.91" width="117.62" height="519.59" fill="url(#gf)" stroke="#000" stroke-width="2.5"/><rect x="572.77" y="1886.98" width="117.62" height="79.52" fill="url(#gf)" stroke="#000" stroke-width="2.5"/><rect x="102.3" y="1441.6" width="705.7" height="524.9" fill="none" stroke="#141414" stroke-width="1.7"/><path d="M94.9 1966.5H102.3 M98.1 1933.69H102.3 M94.9 1900.89H102.3 M98.1 1868.08H102.3 M94.9 1835.28H102.3 M98.1 1802.47H102.3 M94.9 1769.66H102.3 M98.1 1736.86H102.3 M94.9 1704.05H102.3 M98.1 1671.24H102.3 M94.9 1638.44H102.3 M98.1 1605.63H102.3 M94.9 1572.82H102.3 M98.1 1540.02H102.3 M94.9 1507.21H102.3 M98.1 1474.41H102.3 M94.9 1441.6H102.3 M102.3 1966.5V1973.9 M161.11 1966.5V1970.7 M219.92 1966.5V1973.9 M278.73 1966.5V1970.7 M337.53 1966.5V1973.9 M396.34 1966.5V1970.7 M455.15 1966.5V1973.9 M513.96 1966.5V1970.7 M572.77 1966.5V1973.9 M631.58 1966.5V1970.7 M690.38 1966.5V1973.9 M749.19 1966.5V1970.7 M808 1966.5V1973.9" stroke="#141414" stroke-width="1.7" fill="none"/><polyline points="102.3,1708.64 104.06,1705.93 105.83,1703.2 107.59,1700.47 109.36,1697.74 111.12,1695.01 112.89,1692.27 114.65,1689.53 116.41,1686.79 118.18,1684.05 119.94,1681.3 121.71,1678.56 123.47,1675.82 125.24,1673.07 127,1670.33 128.76,1667.59 130.53,1664.85 132.29,1662.12 134.06,1659.38 135.82,1656.66 137.59,1653.93 139.35,1651.21 141.11,1648.5 142.88,1645.79 144.64,1643.09 146.41,1640.39 148.17,1637.71 149.93,1635.03 151.7,1632.36 153.46,1629.7 155.23,1627.05 156.99,1624.4 158.76,1621.77 160.52,1619.16 162.28,1616.55 164.05,1613.96 165.81,1611.38 167.58,1608.81 169.34,1606.26 171.11,1603.72 172.87,1601.2 174.63,1598.69 176.4,1596.2 178.16,1593.73 179.93,1591.27 181.69,1588.84 183.46,1586.42 185.22,1584.02 186.98,1581.64 188.75,1579.29 190.51,1576.95 192.28,1574.64 194.04,1572.34 195.81,1570.07 197.57,1567.83 199.33,1565.6 201.1,1563.41 202.86,1561.23 204.63,1559.09 206.39,1556.96 208.15,1554.87 209.92,1552.8 211.68,1550.76 213.45,1548.75 215.21,1546.76 216.98,1544.81 218.74,1542.88 220.5,1540.99 222.27,1539.13 224.03,1537.29 225.8,1535.49 227.56,1533.72 229.33,1531.98 231.09,1530.28 232.85,1528.61 234.62,1526.97 236.38,1525.36 238.15,1523.79 239.91,1522.26 241.68,1520.76 243.44,1519.3 245.2,1517.87 246.97,1516.48 248.73,1515.13 250.5,1513.81 252.26,1512.53 254.03,1511.29 255.79,1510.09 257.55,1508.93 259.32,1507.8 261.08,1506.71 262.85,1505.67 264.61,1504.66 266.38,1503.7 268.14,1502.77 269.9,1501.88 271.67,1501.04 273.43,1500.24 275.2,1499.47 276.96,1498.75 278.73,1498.07 280.49,1497.43 282.25,1496.84 284.02,1496.29 285.78,1495.77 287.55,1495.31 289.31,1494.88 291.07,1494.5 292.84,1494.16 294.6,1493.86 296.37,1493.6 298.13,1493.39 299.9,1493.22 301.66,1493.1 303.42,1493.02 305.19,1492.98 306.95,1492.98 308.72,1493.03 310.48,1493.12 312.25,1493.25 314.01,1493.43 315.77,1493.65 317.54,1493.92 319.3,1494.22 321.07,1494.57 322.83,1494.96 324.6,1495.4 326.36,1495.87 328.12,1496.39 329.89,1496.96 331.65,1497.56 333.42,1498.21 335.18,1498.89 336.95,1499.62 338.71,1500.39 340.47,1501.2 342.24,1502.06 344,1502.95 345.77,1503.89 347.53,1504.86 349.3,1505.87 351.06,1506.93 352.82,1508.02 354.59,1509.15 356.35,1510.33 358.12,1511.54 359.88,1512.78 361.64,1514.07 363.41,1515.39 365.17,1516.76 366.94,1518.15 368.7,1519.59 370.47,1521.06 372.23,1522.56 373.99,1524.11 375.76,1525.68 377.52,1527.29 379.29,1528.94 381.05,1530.61 382.82,1532.33 384.58,1534.07 386.34,1535.85 388.11,1537.66 389.87,1539.5 391.64,1541.37 393.4,1543.27 395.17,1545.2 396.93,1547.16 398.69,1549.15 400.46,1551.17 402.22,1553.21 403.99,1555.29 405.75,1557.39 407.52,1559.51 409.28,1561.67 411.04,1563.84 412.81,1566.05 414.57,1568.27 416.34,1570.53 418.1,1572.8 419.86,1575.1 421.63,1577.42 423.39,1579.76 425.16,1582.12 426.92,1584.5 428.69,1586.9 430.45,1589.32 432.21,1591.76 433.98,1594.22 435.74,1596.7 437.51,1599.19 439.27,1601.7 441.04,1604.22 442.8,1606.76 444.56,1609.32 446.33,1611.89 448.09,1614.47 449.86,1617.07 451.62,1619.68 453.39,1622.3 455.15,1624.93 456.91,1627.57 458.68,1630.23 460.44,1632.89 462.21,1635.56 463.97,1638.24 465.74,1640.93 467.5,1643.63 469.26,1646.33 471.03,1649.04 472.79,1651.76 474.56,1654.48 476.32,1657.2 478.09,1659.93 479.85,1662.66 481.61,1665.4 483.38,1668.14 485.14,1670.88 486.91,1673.62 488.67,1676.37 490.44,1679.11 492.2,1681.85 493.96,1684.6 495.73,1687.34 497.49,1690.08 499.26,1692.82 501.02,1695.56 502.78,1698.29 504.55,1701.02 506.31,1703.75 508.08,1706.47 509.84,1709.19 511.61,1711.9 513.37,1714.61 515.13,1717.31 516.9,1720 518.66,1722.69 520.43,1725.37 522.19,1728.04 523.96,1730.71 525.72,1733.36 527.48,1736.01 529.25,1738.65 531.01,1741.28 532.78,1743.89 534.54,1746.5 536.31,1749.1 538.07,1751.69 539.83,1754.26 541.6,1756.82 543.36,1759.37 545.13,1761.91 546.89,1764.44 548.66,1766.95 550.42,1769.45 552.18,1771.94 553.95,1774.41 555.71,1776.87 557.48,1779.31 559.24,1781.74 561,1784.16 562.77,1786.56 564.53,1788.94 566.3,1791.31 568.06,1793.66 569.83,1796 571.59,1798.32 573.35,1800.62 575.12,1802.91 576.88,1805.18 578.65,1807.43 580.41,1809.67 582.18,1811.89 583.94,1814.09 585.7,1816.27 587.47,1818.44 589.23,1820.59 591,1822.72 592.76,1824.83 594.53,1826.92 596.29,1829 598.05,1831.05 599.82,1833.09 601.58,1835.11 603.35,1837.11 605.11,1839.09 606.88,1841.06 608.64,1843 610.4,1844.92 612.17,1846.83 613.93,1848.72 615.7,1850.59 617.46,1852.43 619.23,1854.26 620.99,1856.07 622.75,1857.86 624.52,1859.63 626.28,1861.39 628.05,1863.12 629.81,1864.83 631.58,1866.53 633.34,1868.2 635.1,1869.86 636.87,1871.49 638.63,1873.11 640.4,1874.71 642.16,1876.29 643.92,1877.85 645.69,1879.39 647.45,1880.91 649.22,1882.42 650.98,1883.9 652.75,1885.36 654.51,1886.81 656.27,1888.24 658.04,1889.65 659.8,1891.04 661.57,1892.41 663.33,1893.77 665.1,1895.1 666.86,1896.42 668.62,1897.72 670.39,1899 672.15,1900.27 673.92,1901.51 675.68,1902.74 677.45,1903.95 679.21,1905.15 680.97,1906.32 682.74,1907.48 684.5,1908.62 686.27,1909.75 688.03,1910.86 689.8,1911.95 691.56,1913.02 693.32,1914.08 695.09,1915.13 696.85,1916.15 698.62,1917.16 700.38,1918.16 702.15,1919.14 703.91,1920.1 705.67,1921.05 707.44,1921.98 709.2,1922.9 710.97,1923.8 712.73,1924.69 714.49,1925.56 716.26,1926.42 718.02,1927.26 719.79,1928.09 721.55,1928.91 723.32,1929.71 725.08,1930.5 726.84,1931.27 728.61,1932.03 730.37,1932.78 732.14,1933.51 733.9,1934.23 735.67,1934.94 737.43,1935.64 739.19,1936.32 740.96,1936.99 742.72,1937.65 744.49,1938.29 746.25,1938.93 748.02,1939.55 749.78,1940.16 751.54,1940.76 753.31,1941.35 755.07,1941.93 756.84,1942.49 758.6,1943.05 760.37,1943.59 762.13,1944.12 763.89,1944.65 765.66,1945.16 767.42,1945.66 769.19,1946.15 770.95,1946.64 772.71,1947.11 774.48,1947.57 776.24,1948.03 778.01,1948.47 779.77,1948.91 781.54,1949.34 783.3,1949.75 785.06,1950.16 786.83,1950.56 788.59,1950.96 790.36,1951.34 792.12,1951.72 793.89,1952.08 795.65,1952.44 797.41,1952.8 799.18,1953.14 800.94,1953.48 802.71,1953.81 804.47,1954.13 806.24,1954.45 808,1954.75" fill="none" stroke="#000" stroke-width="3.6" stroke-dasharray="5.3 10.3" stroke-linecap="round" stroke-linejoin="round"/><g font-size="32.2"><text transform="translate(89.4 1975.8) scale(1 1.041)" text-anchor="end">0</text><text transform="translate(89.4 1910.19) scale(1 1.041)" text-anchor="end">100</text><text transform="translate(89.4 1844.58) scale(1 1.041)" text-anchor="end">200</text><text transform="translate(89.4 1778.96) scale(1 1.041)" text-anchor="end">300</text><text transform="translate(89.4 1713.35) scale(1 1.041)" text-anchor="end">400</text><text transform="translate(89.4 1647.74) scale(1 1.041)" text-anchor="end">500</text><text transform="translate(89.4 1582.12) scale(1 1.041)" text-anchor="end">600</text><text transform="translate(89.4 1516.51) scale(1 1.041)" text-anchor="end">700</text><text transform="translate(89.4 1450.9) scale(1 1.041)" text-anchor="end">800</text><text transform="translate(102.3 2004.1) scale(1 1.041)" text-anchor="middle">16</text><text transform="translate(219.92 2004.1) scale(1 1.041)" text-anchor="middle">17</text><text transform="translate(337.53 2004.1) scale(1 1.041)" text-anchor="middle">18</text><text transform="translate(455.15 2004.1) scale(1 1.041)" text-anchor="middle">19</text><text transform="translate(572.77 2004.1) scale(1 1.041)" text-anchor="middle">20</text><text transform="translate(690.38 2004.1) scale(1 1.041)" text-anchor="middle">21</text><text transform="translate(808 2004.1) scale(1 1.041)" text-anchor="middle">22</text></g><g fill="#fff"><rect x="37.13" y="1907.08" width="6.64" height="3.8"/><rect x="46.62" y="1907.08" width="6.39" height="3.8"/><rect x="85.84" y="2001" width="6.64" height="3.8"/><rect x="95.33" y="2001" width="6.39" height="3.8"/><rect x="203.46" y="2001" width="6.64" height="3.8"/><rect x="212.95" y="2001" width="6.39" height="3.8"/><rect x="321.08" y="2001" width="6.64" height="3.8"/><rect x="330.57" y="2001" width="6.39" height="3.8"/><rect x="438.69" y="2001" width="6.64" height="3.8"/><rect x="448.18" y="2001" width="6.39" height="3.8"/><rect x="691.84" y="2001" width="6.64" height="3.8"/><rect x="701.33" y="2001" width="6.39" height="3.8"/></g><text transform="translate(455.15 2060.3) scale(1 1.041)" text-anchor="middle" font-size="34.2">γd (kN/m<tspan dy="-16.2" font-size="22">3</tspan><tspan dy="16.2">)</tspan></text><text transform="translate(25 1703.25) rotate(-90) scale(1 1.041)" text-anchor="middle" font-size="34.2">Count</text></g>
<g><rect x="1009" y="1459.08" width="78.36" height="507.42" fill="url(#gf)" stroke="#000" stroke-width="2.5"/><rect x="1087.36" y="1640.48" width="78.36" height="326.02" fill="url(#gf)" stroke="#000" stroke-width="2.5"/><rect x="1165.71" y="1811.39" width="78.36" height="155.11" fill="url(#gf)" stroke="#000" stroke-width="2.5"/><rect x="1244.07" y="1809.71" width="78.36" height="156.79" fill="url(#gf)" stroke="#000" stroke-width="2.5"/><rect x="1322.42" y="1880.99" width="78.36" height="85.51" fill="url(#gf)" stroke="#000" stroke-width="2.5"/><rect x="1400.78" y="1741.42" width="78.36" height="225.08" fill="url(#gf)" stroke="#000" stroke-width="2.5"/><rect x="1479.13" y="1965.19" width="78.36" height="1.31" fill="url(#gf)" stroke="#000" stroke-width="2.5"/><rect x="1009" y="1441.6" width="705.2" height="524.9" fill="none" stroke="#141414" stroke-width="1.7"/><path d="M1001.6 1966.5H1009 M1004.8 1940.26H1009 M1001.6 1914.01H1009 M1004.8 1887.76H1009 M1001.6 1861.52H1009 M1004.8 1835.28H1009 M1001.6 1809.03H1009 M1004.8 1782.78H1009 M1001.6 1756.54H1009 M1004.8 1730.3H1009 M1001.6 1704.05H1009 M1004.8 1677.8H1009 M1001.6 1651.56H1009 M1004.8 1625.32H1009 M1001.6 1599.07H1009 M1004.8 1572.82H1009 M1001.6 1546.58H1009 M1004.8 1520.34H1009 M1001.6 1494.09H1009 M1004.8 1467.84H1009 M1001.6 1441.6H1009 M1009 1966.5V1973.9 M1048.18 1966.5V1970.7 M1087.36 1966.5V1973.9 M1126.53 1966.5V1970.7 M1165.71 1966.5V1973.9 M1204.89 1966.5V1970.7 M1244.07 1966.5V1973.9 M1283.24 1966.5V1970.7 M1322.42 1966.5V1973.9 M1361.6 1966.5V1970.7 M1400.78 1966.5V1973.9 M1439.96 1966.5V1970.7 M1479.13 1966.5V1973.9 M1518.31 1966.5V1970.7 M1557.49 1966.5V1973.9 M1596.67 1966.5V1970.7 M1635.84 1966.5V1973.9 M1675.02 1966.5V1970.7 M1714.2 1966.5V1973.9" stroke="#141414" stroke-width="1.7" fill="none"/><polyline points="1009,1793.38 1010.76,1791.3 1012.53,1789.23 1014.29,1787.15 1016.05,1785.08 1017.82,1783 1019.58,1780.93 1021.34,1778.85 1023.1,1776.78 1024.87,1774.71 1026.63,1772.64 1028.39,1770.57 1030.16,1768.51 1031.92,1766.45 1033.68,1764.4 1035.44,1762.35 1037.21,1760.31 1038.97,1758.28 1040.73,1756.25 1042.5,1754.24 1044.26,1752.23 1046.02,1750.22 1047.79,1748.23 1049.55,1746.25 1051.31,1744.28 1053.08,1742.33 1054.84,1740.38 1056.6,1738.45 1058.36,1736.53 1060.13,1734.62 1061.89,1732.73 1063.65,1730.85 1065.42,1728.99 1067.18,1727.15 1068.94,1725.33 1070.7,1723.52 1072.47,1721.73 1074.23,1719.96 1075.99,1718.2 1077.76,1716.47 1079.52,1714.76 1081.28,1713.07 1083.05,1711.41 1084.81,1709.76 1086.57,1708.14 1088.34,1706.54 1090.1,1704.97 1091.86,1703.42 1093.62,1701.89 1095.39,1700.4 1097.15,1698.92 1098.91,1697.48 1100.68,1696.06 1102.44,1694.67 1104.2,1693.31 1105.96,1691.98 1107.73,1690.68 1109.49,1689.41 1111.25,1688.16 1113.02,1686.95 1114.78,1685.77 1116.54,1684.62 1118.31,1683.51 1120.07,1682.42 1121.83,1681.37 1123.6,1680.36 1125.36,1679.37 1127.12,1678.42 1128.88,1677.51 1130.65,1676.63 1132.41,1675.79 1134.17,1674.98 1135.94,1674.2 1137.7,1673.47 1139.46,1672.77 1141.22,1672.1 1142.99,1671.48 1144.75,1670.89 1146.51,1670.33 1148.28,1669.82 1150.04,1669.34 1151.8,1668.9 1153.57,1668.5 1155.33,1668.14 1157.09,1667.82 1158.86,1667.53 1160.62,1667.29 1162.38,1667.08 1164.14,1666.91 1165.91,1666.78 1167.67,1666.69 1169.43,1666.64 1171.2,1666.63 1172.96,1666.65 1174.72,1666.72 1176.49,1666.82 1178.25,1666.97 1180.01,1667.15 1181.77,1667.37 1183.54,1667.63 1185.3,1667.93 1187.06,1668.27 1188.83,1668.64 1190.59,1669.06 1192.35,1669.51 1194.12,1670 1195.88,1670.53 1197.64,1671.09 1199.4,1671.7 1201.17,1672.34 1202.93,1673.01 1204.69,1673.73 1206.46,1674.48 1208.22,1675.26 1209.98,1676.08 1211.74,1676.94 1213.51,1677.83 1215.27,1678.76 1217.03,1679.72 1218.8,1680.71 1220.56,1681.74 1222.32,1682.81 1224.09,1683.9 1225.85,1685.03 1227.61,1686.19 1229.38,1687.38 1231.14,1688.6 1232.9,1689.85 1234.66,1691.14 1236.43,1692.45 1238.19,1693.79 1239.95,1695.16 1241.72,1696.56 1243.48,1697.99 1245.24,1699.44 1247.01,1700.93 1248.77,1702.43 1250.53,1703.97 1252.29,1705.52 1254.06,1707.11 1255.82,1708.71 1257.58,1710.34 1259.35,1712 1261.11,1713.67 1262.87,1715.37 1264.63,1717.09 1266.4,1718.83 1268.16,1720.58 1269.92,1722.36 1271.69,1724.16 1273.45,1725.97 1275.21,1727.81 1276.98,1729.65 1278.74,1731.52 1280.5,1733.4 1282.26,1735.3 1284.03,1737.21 1285.79,1739.13 1287.55,1741.07 1289.32,1743.02 1291.08,1744.98 1292.84,1746.96 1294.61,1748.94 1296.37,1750.93 1298.13,1752.94 1299.89,1754.95 1301.66,1756.97 1303.42,1759 1305.18,1761.04 1306.95,1763.08 1308.71,1765.13 1310.47,1767.18 1312.24,1769.24 1314,1771.31 1315.76,1773.37 1317.53,1775.44 1319.29,1777.51 1321.05,1779.59 1322.81,1781.66 1324.58,1783.74 1326.34,1785.82 1328.1,1787.89 1329.87,1789.97 1331.63,1792.04 1333.39,1794.11 1335.15,1796.18 1336.92,1798.25 1338.68,1800.31 1340.44,1802.37 1342.21,1804.43 1343.97,1806.48 1345.73,1808.52 1347.5,1810.56 1349.26,1812.59 1351.02,1814.62 1352.79,1816.64 1354.55,1818.65 1356.31,1820.65 1358.07,1822.65 1359.84,1824.63 1361.6,1826.61 1363.36,1828.58 1365.13,1830.53 1366.89,1832.48 1368.65,1834.42 1370.41,1836.34 1372.18,1838.26 1373.94,1840.16 1375.7,1842.05 1377.47,1843.93 1379.23,1845.79 1380.99,1847.64 1382.76,1849.48 1384.52,1851.31 1386.28,1853.12 1388.05,1854.92 1389.81,1856.7 1391.57,1858.47 1393.33,1860.23 1395.1,1861.97 1396.86,1863.69 1398.62,1865.4 1400.39,1867.1 1402.15,1868.77 1403.91,1870.44 1405.67,1872.08 1407.44,1873.71 1409.2,1875.33 1410.96,1876.93 1412.73,1878.51 1414.49,1880.07 1416.25,1881.62 1418.02,1883.15 1419.78,1884.66 1421.54,1886.16 1423.3,1887.64 1425.07,1889.1 1426.83,1890.55 1428.59,1891.98 1430.36,1893.39 1432.12,1894.78 1433.88,1896.16 1435.65,1897.52 1437.41,1898.86 1439.17,1900.18 1440.93,1901.49 1442.7,1902.78 1444.46,1904.05 1446.22,1905.3 1447.99,1906.54 1449.75,1907.76 1451.51,1908.96 1453.28,1910.15 1455.04,1911.31 1456.8,1912.47 1458.57,1913.6 1460.33,1914.72 1462.09,1915.81 1463.85,1916.9 1465.62,1917.96 1467.38,1919.01 1469.14,1920.04 1470.91,1921.06 1472.67,1922.06 1474.43,1923.04 1476.2,1924.01 1477.96,1924.96 1479.72,1925.9 1481.48,1926.81 1483.25,1927.72 1485.01,1928.61 1486.77,1929.48 1488.54,1930.33 1490.3,1931.18 1492.06,1932 1493.83,1932.81 1495.59,1933.61 1497.35,1934.39 1499.11,1935.16 1500.88,1935.91 1502.64,1936.65 1504.4,1937.38 1506.17,1938.09 1507.93,1938.79 1509.69,1939.47 1511.45,1940.14 1513.22,1940.8 1514.98,1941.44 1516.74,1942.07 1518.51,1942.69 1520.27,1943.3 1522.03,1943.89 1523.8,1944.47 1525.56,1945.04 1527.32,1945.59 1529.09,1946.14 1530.85,1946.67 1532.61,1947.19 1534.37,1947.71 1536.14,1948.2 1537.9,1948.69 1539.66,1949.17 1541.43,1949.64 1543.19,1950.09 1544.95,1950.54 1546.72,1950.98 1548.48,1951.4 1550.24,1951.82 1552,1952.23 1553.77,1952.62 1555.53,1953.01 1557.29,1953.39 1559.06,1953.76 1560.82,1954.12 1562.58,1954.47 1564.35,1954.82 1566.11,1955.15 1567.87,1955.48 1569.63,1955.8 1571.4,1956.11 1573.16,1956.42 1574.92,1956.71 1576.69,1957 1578.45,1957.28 1580.21,1957.56 1581.97,1957.82 1583.74,1958.08 1585.5,1958.34 1587.26,1958.58 1589.03,1958.82 1590.79,1959.06 1592.55,1959.29 1594.32,1959.51 1596.08,1959.72 1597.84,1959.93 1599.61,1960.14 1601.37,1960.34 1603.13,1960.53 1604.89,1960.72 1606.66,1960.9 1608.42,1961.08 1610.18,1961.25 1611.95,1961.42 1613.71,1961.58 1615.47,1961.74 1617.24,1961.9 1619,1962.05 1620.76,1962.19 1622.52,1962.33 1624.29,1962.47 1626.05,1962.6 1627.81,1962.73 1629.58,1962.86 1631.34,1962.98 1633.1,1963.1 1634.87,1963.21 1636.63,1963.32 1638.39,1963.43 1640.15,1963.53 1641.92,1963.64 1643.68,1963.73 1645.44,1963.83 1647.21,1963.92 1648.97,1964.01 1650.73,1964.1 1652.5,1964.18 1654.26,1964.26 1656.02,1964.34 1657.78,1964.42 1659.55,1964.49 1661.31,1964.56 1663.07,1964.63 1664.84,1964.7 1666.6,1964.76 1668.36,1964.83 1670.12,1964.89 1671.89,1964.95 1673.65,1965 1675.41,1965.06 1677.18,1965.11 1678.94,1965.16 1680.7,1965.21 1682.47,1965.26 1684.23,1965.3 1685.99,1965.35 1687.76,1965.39 1689.52,1965.43 1691.28,1965.47 1693.04,1965.51 1694.81,1965.55 1696.57,1965.59 1698.33,1965.62 1700.1,1965.65 1701.86,1965.69 1703.62,1965.72 1705.38,1965.75 1707.15,1965.78 1708.91,1965.81 1710.67,1965.83 1712.44,1965.86 1714.2,1965.88" fill="none" stroke="#000" stroke-width="3.6" stroke-dasharray="5.3 10.3" stroke-linecap="round" stroke-linejoin="round"/><g font-size="32.2"><text transform="translate(996.1 1975.8) scale(1 1.041)" text-anchor="end">0</text><text transform="translate(996.1 1923.31) scale(1 1.041)" text-anchor="end">100</text><text transform="translate(996.1 1870.82) scale(1 1.041)" text-anchor="end">200</text><text transform="translate(996.1 1818.33) scale(1 1.041)" text-anchor="end">300</text><text transform="translate(996.1 1765.84) scale(1 1.041)" text-anchor="end">400</text><text transform="translate(996.1 1713.35) scale(1 1.041)" text-anchor="end">500</text><text transform="translate(996.1 1660.86) scale(1 1.041)" text-anchor="end">600</text><text transform="translate(996.1 1608.37) scale(1 1.041)" text-anchor="end">700</text><text transform="translate(996.1 1555.88) scale(1 1.041)" text-anchor="end">800</text><text transform="translate(996.1 1503.39) scale(1 1.041)" text-anchor="end">900</text><text transform="translate(996.1 1450.9) scale(1 1.041)" text-anchor="end">1000</text><text transform="translate(1009 2004.1) scale(1 1.041)" text-anchor="middle">0</text><text transform="translate(1087.36 2004.1) scale(1 1.041)" text-anchor="middle">2</text><text transform="translate(1165.71 2004.1) scale(1 1.041)" text-anchor="middle">4</text><text transform="translate(1244.07 2004.1) scale(1 1.041)" text-anchor="middle">6</text><text transform="translate(1322.42 2004.1) scale(1 1.041)" text-anchor="middle">8</text><text transform="translate(1400.78 2004.1) scale(1 1.041)" text-anchor="middle">10</text><text transform="translate(1479.13 2004.1) scale(1 1.041)" text-anchor="middle">12</text><text transform="translate(1557.49 2004.1) scale(1 1.041)" text-anchor="middle">14</text><text transform="translate(1635.84 2004.1) scale(1 1.041)" text-anchor="middle">16</text><text transform="translate(1714.2 2004.1) scale(1 1.041)" text-anchor="middle">18</text></g><g fill="#fff"><rect x="943.83" y="1920.21" width="6.64" height="3.8"/><rect x="953.32" y="1920.21" width="6.39" height="3.8"/><rect x="925.92" y="1447.8" width="6.64" height="3.8"/><rect x="935.41" y="1447.8" width="6.39" height="3.8"/><rect x="1384.32" y="2001" width="6.64" height="3.8"/><rect x="1393.81" y="2001" width="6.39" height="3.8"/><rect x="1462.68" y="2001" width="6.64" height="3.8"/><rect x="1472.17" y="2001" width="6.39" height="3.8"/><rect x="1541.03" y="2001" width="6.64" height="3.8"/><rect x="1550.52" y="2001" width="6.39" height="3.8"/><rect x="1619.39" y="2001" width="6.64" height="3.8"/><rect x="1628.88" y="2001" width="6.39" height="3.8"/><rect x="1697.74" y="2001" width="6.64" height="3.8"/><rect x="1707.23" y="2001" width="6.39" height="3.8"/></g><text transform="translate(1361.6 2055.9) scale(1 1.041)" text-anchor="middle" font-size="34.2">NFT</text><text transform="translate(914.3 1703.25) rotate(-90) scale(1 1.041)" text-anchor="middle" font-size="34.2">Count</text></g></svg>
</body></html>
